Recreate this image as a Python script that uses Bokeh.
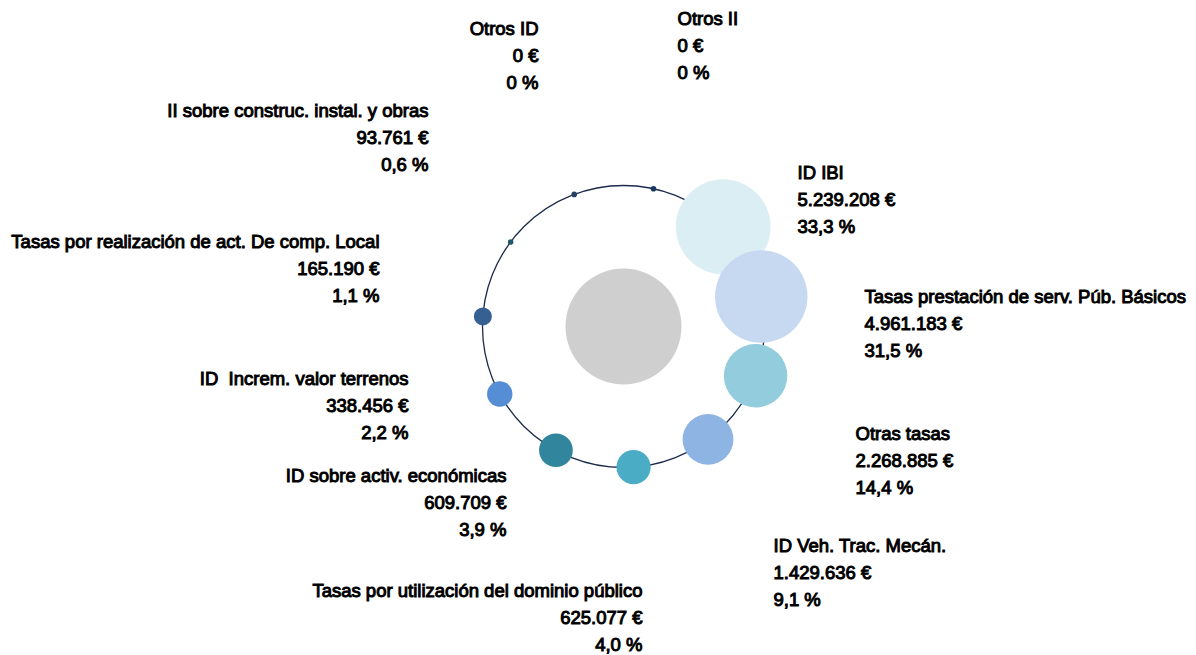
import math
from bokeh.plotting import figure
from bokeh.models import Range1d, ColumnDataSource
from bokeh.core.properties import value
from bokeh.embed import file_html
from bokeh.resources import INLINE

# ---------------- data ----------------
categories = [
    "ID IBI",
    "Tasas prestación de serv. Púb. Básicos",
    "Otras tasas",
    "ID Veh. Trac. Mecán.",
    "Tasas por utilización del dominio público",
    "ID sobre activ. económicas",
    "ID \u00a0Increm. valor terrenos",
    "Tasas por realización de act. De comp. Local",
    "II sobre construc. instal. y obras",
    "Otros ID",
    "Otros II",
]
amounts = [5239208, 4961183, 2268885, 1429636, 625077, 609709, 338456, 165190, 93761, 0, 0]
amount_labels = ["5.239.208 €", "4.961.183 €", "2.268.885 €", "1.429.636 €", "625.077 €",
                 "609.709 €", "338.456 €", "165.190 €", "93.761 €", "0 €", "0 €"]
percent_labels = ["33,3 %", "31,5 %", "14,4 %", "9,1 %", "4,0 %", "3,9 %", "2,2 %",
                  "1,1 %", "0,6 %", "0 %", "0 %"]
percents = [33.3, 31.5, 14.4, 9.1, 4.0, 3.9, 2.2, 1.1, 0.6, 0.0, 0.0]

# ---------------- styles / layout ----------------
colors = ["#dbeef4", "#c6d9f1", "#93cddd", "#8eb4e3", "#4bacc6", "#31859c",
          "#558ed5", "#376092", "#215968", "#254061", "#17375e"]
# label anchors in page pixels (x, first-line middle y, align)
label_layout = [
    (797, 172, "left"), (864, 296, "left"), (855, 433, "left"), (773, 545, "left"),
    (642, 590, "right"), (506, 475, "right"), (408, 378, "right"), (379, 241, "right"),
    (428, 110, "right"), (538, 28, "right"), (677, 18, "left"),
]
CX, CY = 623, 326          # ring centre in page pixels
RING_R = 141
CENTER_R = 58
LINE_GAP = 27

W, H = 1192, 655
p = figure(width=W, height=H, output_backend="svg", toolbar_location=None,
           x_range=Range1d(-CX, W - CX), y_range=Range1d(CY - H, CY),
           min_border=0)
p.axis.visible = False
p.grid.visible = False
p.outline_line_color = None
p.background_fill_color = "white"
p.border_fill_color = "white"

# ring and centre
p.circle(x=[0], y=[0], radius=RING_R, fill_color=None, line_color="#1c2b4b", line_width=1.3)
p.circle(x=[0], y=[0], radius=CENTER_R, fill_color="#cfcfcf", line_color=None)

# bubbles
n = len(categories)
bx, by, br = [], [], []
ref_v, ref_r, expo = 165190.0, 9.0, 0.481
for i, v in enumerate(amounts):
    ang = math.radians(45 - i * 360.0 / n)
    bx.append(RING_R * math.cos(ang))
    by.append(RING_R * math.sin(ang))
    if percents[i] < 1:
        br.append(2.8)
    else:
        br.append(ref_r * (v / ref_v) ** expo)

src = ColumnDataSource(dict(x=bx, y=by, r=br, c=colors))
p.circle(x="x", y="y", radius="r", fill_color="c", line_color=None, source=src)

# labels
tx, ty, tt, ta = [], [], [], []
for i in range(n):
    lx, ly, al = label_layout[i]
    for k, s in enumerate([categories[i], amount_labels[i], percent_labels[i]]):
        tx.append(lx - CX)
        ty.append(CY - (ly + k * LINE_GAP))
        tt.append(s)
        ta.append(al)
tsrc = ColumnDataSource(dict(x=tx, y=ty, t=tt, a=ta))
p.text(x="x", y="y", text="t", text_align="a", text_baseline="middle",
       text_font=value("Liberation Sans"), text_font_size="18.5px", text_color="#000000",
       text_outline_color="#000000", source=tsrc)

open("out.html", "w").write(file_html(p, INLINE))
